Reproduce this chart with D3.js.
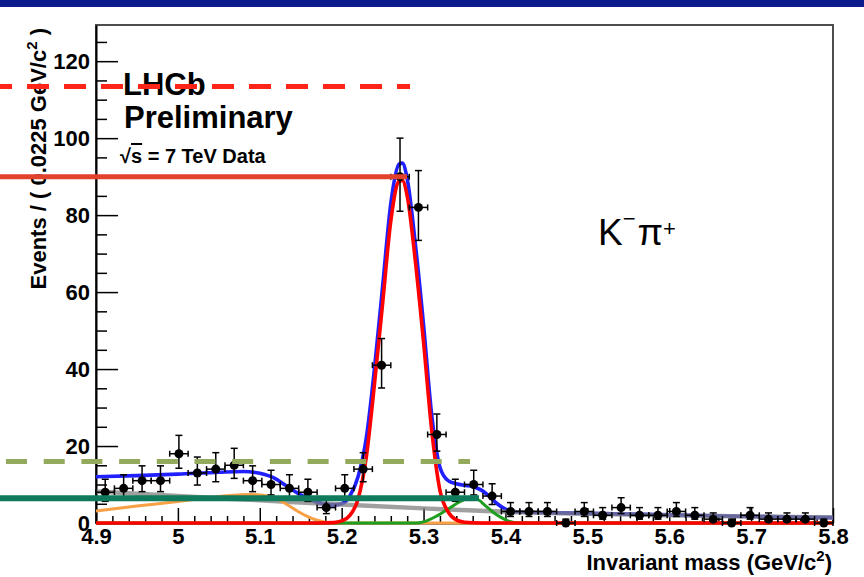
<!DOCTYPE html>
<html>
<head>
<meta charset="utf-8">
<script src="https://cdn.jsdelivr.net/npm/d3@7"></script>
<style>
html, body { margin: 0; padding: 0; background: #fff; }
svg { display: block; font-family: "Liberation Sans", Arial, sans-serif; }
</style>
</head>
<body>
<svg id="chart" width="864" height="577"></svg>
<script>
// histogram: 40 bins of 0.0225 GeV from 4.9 to 5.8
const massMin = 4.9, massMax = 5.8, binWidth = 0.0225;
const counts = [8, 9, 11, 11, 18, 13, 14, 15, 11, 10,
                9, 8, 4, 9, 14, 41, 90, 82, 23, 8,
                10, 7, 3, 3, 3, 0, 3, 2, 4, 2,
                2, 3, 2, 1, 0, 2, 1, 1, 1, 0];

// fit curves: [mass, events]
const totalFit = [[4.90,12.0],[4.95,12.3],[5.00,12.7],[5.05,13.2],[5.08,13.4],[5.10,12.9],
  [5.12,11.4],[5.13,10.0],[5.14,8.6],[5.15,7.3],[5.16,6.2],[5.17,5.4],[5.18,4.9],[5.19,4.7],
  [5.20,5.0],[5.21,7.0],[5.22,12],[5.23,22],[5.24,40],[5.25,61.5],[5.26,83],[5.27,93.2],
  [5.274,93.5],[5.28,89.5],[5.29,72.5],[5.30,51.5],[5.31,28],[5.32,14.5],[5.33,11],[5.34,10.2],
  [5.35,9.8],[5.36,9.5],[5.37,8.6],[5.38,7.0],[5.39,5.0],[5.40,3.6],[5.41,3.0],[5.43,2.8],
  [5.45,2.7],[5.50,2.5],[5.60,2.1],[5.70,1.7],[5.80,1.4]];
const signalFit = [[4.90,0],[5.17,0],[5.19,0.1],[5.20,0.55],[5.21,2.0],[5.22,6.2],[5.23,17],
  [5.24,36],[5.25,57],[5.26,78.5],[5.27,88.8],[5.274,89],[5.28,85],[5.29,68],[5.30,47],
  [5.31,24],[5.32,8.5],[5.33,2.9],[5.34,0.8],[5.35,0.2],[5.37,0],[5.80,0]];
const combFit = [[4.90,8.2],[5.00,7.0],[5.10,5.9],[5.20,4.8],[5.30,3.8],[5.40,2.9],
  [5.50,2.4],[5.60,2.0],[5.70,1.7],[5.80,1.4]];
const partRecoFit = [[4.90,3.1],[4.95,4.4],[5.00,5.6],[5.03,6.4],[5.06,7.1],[5.09,7.4],
  [5.11,7.0],[5.12,6.4],[5.13,5.2],[5.14,3.9],[5.15,2.6],[5.16,1.5],[5.17,0.7],[5.18,0.2],
  [5.19,0],[5.80,0]];
const otherFit = [[4.90,0],[5.29,0],[5.30,0.3],[5.316,1.8],[5.332,3.9],[5.345,5.6],[5.355,6.4],
  [5.365,6.2],[5.375,4.6],[5.385,2.8],[5.395,1.4],[5.405,0.4],[5.415,0],[5.80,0]];

// axis ticks
const yMajor = [0, 20, 40, 60, 80, 100, 120];
const xMajor = [4.9, 5.0, 5.1, 5.2, 5.3, 5.4, 5.5, 5.6, 5.7, 5.8];
const xTickLabels = ["4.9", "5", "5.1", "5.2", "5.3", "5.4", "5.5", "5.6", "5.7", "5.8"];

// overlay guide lines drawn on the slide: level in events, right end in mass
const guideLevels = [113.4, 90, 16, 6.4];
const guideEnds = [5.2835, 5.2798, 5.3567, 5.3677];
const guideStyles = [
  {color: "#ff2418", width: 5, dash: "22,15", offset: 10},
  {color: "#e2412c", width: 5, dash: null, offset: 0},
  {color: "#93aa5c", width: 5, dash: "21,16.7", offset: 31.7},
  {color: "#0f7a5c", width: 6, dash: null, offset: 0}
];

const svg = d3.select("#chart");
const x = d3.scaleLinear().domain([massMin, massMax]).range([96, 833]);
const y = d3.scaleLinear().domain([0, 129.4]).range([523, 25]);

// top banner
svg.append("rect").attr("x", 0).attr("y", 0).attr("width", 864).attr("height", 7).attr("fill", "#0d1c8d");

// frame
svg.append("rect")
  .attr("x", x(massMin)).attr("y", y(129.4))
  .attr("width", x(massMax) - x(massMin)).attr("height", y(0) - y(129.4))
  .attr("fill", "none").attr("stroke", "#4d4d4d").attr("stroke-width", 2);

// y axis
const gy = svg.append("g").attr("transform", "translate(" + x(massMin) + ",0)");
gy.call(d3.axisLeft(y).tickValues(yMajor).tickSizeInner(-22).tickSizeOuter(0).tickPadding(6));
gy.append("g").call(d3.axisLeft(y).tickValues(d3.range(5, 129, 5).filter(v => v % 20 != 0))
  .tickSize(-11).tickFormat("")).select(".domain").remove();
gy.selectAll(".domain").attr("stroke", "#000").attr("stroke-width", 2);
gy.selectAll(".tick line").attr("stroke", "#000").attr("stroke-width", 1.5);
gy.selectAll(".tick text").attr("font-size", 22).attr("font-weight", "bold").attr("fill", "#000")
  .attr("font-family", "Liberation Sans, Arial, sans-serif");

// x axis
const gx = svg.append("g").attr("transform", "translate(0," + y(0) + ")");
gx.call(d3.axisBottom(x).tickValues(xMajor).tickFormat((d, i) => xTickLabels[i])
  .tickSizeInner(-15).tickSizeOuter(0).tickPadding(5));
gx.append("g").call(d3.axisBottom(x).tickValues(d3.range(4.92, 5.8, 0.02).filter((v, i) => (i + 1) % 5 != 0))
  .tickSize(-7).tickFormat("")).select(".domain").remove();
gx.selectAll(".domain").attr("stroke", "#000").attr("stroke-width", 2);
gx.selectAll(".tick line").attr("stroke", "#000").attr("stroke-width", 1.5);
gx.selectAll(".tick text").attr("font-size", 22).attr("font-weight", "bold").attr("fill", "#000")
  .attr("font-family", "Liberation Sans, Arial, sans-serif");

// axis titles
const yt = svg.append("text")
  .attr("transform", "translate(46,28) rotate(-90)")
  .attr("text-anchor", "end").attr("font-size", 22).attr("font-weight", "bold");
yt.append("tspan").text("Events / ( 0.0225 GeV/c");
yt.append("tspan").attr("font-size", 15).attr("dy", -9).text("2");
yt.append("tspan").attr("dy", 9).text(" )");

const xt = svg.append("text")
  .attr("x", 832).attr("y", 570)
  .attr("text-anchor", "end").attr("font-size", 22).attr("font-weight", "bold");
xt.append("tspan").text("Invariant mass (GeV/c");
xt.append("tspan").attr("font-size", 15).attr("dy", -9).text("2");
xt.append("tspan").attr("dy", 9).text(")");

// fit curves
const line = d3.line().x(d => x(d[0])).y(d => y(d[1])).curve(d3.curveMonotoneX);
const curves = [
  {data: totalFit, color: "#1f1fff", width: 3.6, opacity: 1},
  {data: combFit, color: "#808080", width: 4.5, opacity: 0.75},
  {data: partRecoFit, color: "#f7a045", width: 3, opacity: 1},
  {data: otherFit, color: "#1f9e1f", width: 3, opacity: 1},
  {data: signalFit, color: "#ff0000", width: 3.6, opacity: 1}
];
curves.forEach(c => {
  svg.append("path").datum(c.data).attr("d", line)
    .attr("fill", "none").attr("stroke", c.color).attr("stroke-width", c.width)
    .attr("stroke-opacity", c.opacity).attr("stroke-linejoin", "round");
});

// data points with Poisson error bars
const pts = counts.map((n, i) => {
  const c = massMin + (i + 0.5) * binWidth;
  const s = Math.sqrt(n + 0.25);
  return {m: c, n: n, hi: n + 0.5 + s, lo: Math.max(0, n + 0.5 - s)};
});
const gp = svg.append("g").attr("stroke", "#000").attr("stroke-width", 1.5);
pts.forEach(p => {
  const cx = x(p.m), cy = y(p.n);
  const xl = x(p.m - binWidth / 2), xr = x(p.m + binWidth / 2);
  gp.append("line").attr("x1", cx).attr("x2", cx).attr("y1", y(p.lo)).attr("y2", y(p.hi));
  gp.append("line").attr("x1", cx - 3.5).attr("x2", cx + 3.5).attr("y1", y(p.hi)).attr("y2", y(p.hi));
  gp.append("line").attr("x1", cx - 3.5).attr("x2", cx + 3.5).attr("y1", y(p.lo)).attr("y2", y(p.lo));
  gp.append("line").attr("x1", xl).attr("x2", xr).attr("y1", cy).attr("y2", cy);
  gp.append("line").attr("x1", xl).attr("x2", xl).attr("y1", cy - 3).attr("y2", cy + 3);
  gp.append("line").attr("x1", xr).attr("x2", xr).attr("y1", cy - 3).attr("y2", cy + 3);
  gp.append("circle").attr("cx", cx).attr("cy", cy).attr("r", 4.5).attr("fill", "#000").attr("stroke", "none");
});

// labels
svg.append("text").attr("x", 123).attr("y", 95).attr("font-size", 31).attr("font-weight", "bold").text("LHCb");
svg.append("text").attr("x", 124).attr("y", 128).attr("font-size", 31).attr("font-weight", "bold").text("Preliminary");
const rs = svg.append("text").attr("x", 120).attr("y", 163).attr("font-size", 20).attr("font-weight", "bold");
rs.append("tspan").text("\u221A");
rs.append("tspan").attr("text-decoration", "overline").text("s");
rs.append("tspan").text(" = 7 TeV Data");

const kp = svg.append("text").attr("x", 598).attr("y", 245).attr("font-size", 37);
kp.append("tspan").text("K");
kp.append("tspan").attr("font-size", 22).attr("dy", -19).text("\u2212");
kp.append("tspan").attr("dy", 19).attr("dx", 2).text("\u03C0");
kp.append("tspan").attr("font-size", 22).attr("dy", -9).text("+");

// overlay guides
guideLevels.forEach((v, i) => {
  const st = guideStyles[i];
  const l = svg.append("line")
    .attr("x1", 0).attr("x2", x(guideEnds[i]))
    .attr("y1", y(v)).attr("y2", y(v))
    .attr("stroke", st.color).attr("stroke-width", st.width);
  if (st.dash) l.attr("stroke-dasharray", st.dash).attr("stroke-dashoffset", st.offset);
});
</script>
</body>
</html>
